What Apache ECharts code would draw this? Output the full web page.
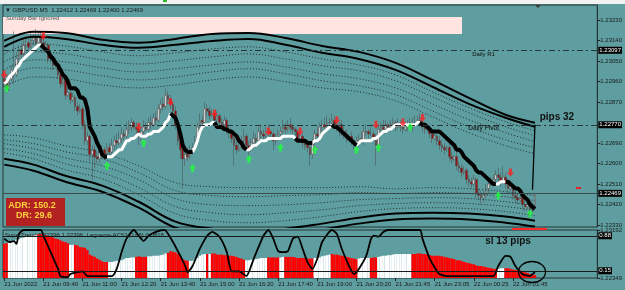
<!DOCTYPE html>
<html>
<head>
<meta charset="utf-8">
<script src="https://cdn.jsdelivr.net/npm/echarts@6/dist/echarts.min.js"></script>
<style>
  html, body { margin: 0; padding: 0; background: #5F9EA0; }
  #chart { width: 625px; height: 290px; }
</style>
</head>
<body>
<div id="chart"></div>
<script>
// GBPUSD M5, 21-22 Jun 2022
const timeLabels = ['21 Jun 2022', '21 Jun 09:40', '21 Jun 11:00', '21 Jun 12:20', '21 Jun 13:40', '21 Jun 15:00', '21 Jun 16:20',
    '21 Jun 17:40', '21 Jun 19:00', '21 Jun 20:20', '21 Jun 21:45', '21 Jun 23:05', '22 Jun 00:25', '22 Jun 01:45'];
const barsPerLabel = 16;
const slots = 243; // bars visible incl. right shift

const opens = [1.2297,1.2295,1.2293,1.2297,1.2301,1.2299,1.2306,1.2310,1.2308,1.2312,
    1.2313,1.2311,1.2314,1.2315,1.2313,1.2316,1.2313,1.2311,1.2312,1.2306,
    1.2307,1.2303,1.2304,1.2299,1.2295,1.2297,1.2290,1.2291,1.2288,1.2289,
    1.2285,1.2283,1.2284,1.2277,1.2270,1.2272,1.2264,1.2266,1.2263,1.2262,
    1.2265,1.2266,1.2264,1.2267,1.2265,1.2268,1.2270,1.2269,1.2271,1.2273,
    1.2272,1.2275,1.2276,1.2278,1.2276,1.2275,1.2272,1.2274,1.2276,1.2275,
    1.2278,1.2277,1.2280,1.2279,1.2284,1.2286,1.2285,1.2290,1.2288,1.2286,
    1.2283,1.2277,1.2270,1.2266,1.2262,1.2264,1.2263,1.2266,1.2267,1.2270,
    1.2276,1.2279,1.2278,1.2284,1.2283,1.2281,1.2282,1.2279,1.2281,1.2278,
    1.2277,1.2279,1.2275,1.2274,1.2271,1.2268,1.2266,1.2267,1.2270,1.2272,
    1.2268,1.2266,1.2269,1.2271,1.2270,1.2274,1.2273,1.2272,1.2274,1.2274,
    1.2273,1.2270,1.2271,1.2273,1.2274,1.2276,1.2275,1.2277,1.2276,1.2275,
    1.2274,1.2271,1.2272,1.2269,1.2268,1.2267,1.2264,1.2270,1.2273,1.2272,
    1.2276,1.2277,1.2276,1.2278,1.2278,1.2279,1.2277,1.2276,1.2277,1.2274,
    1.2273,1.2271,1.2272,1.2270,1.2268,1.2270,1.2271,1.2270,1.2274,1.2274,
    1.2273,1.2273,1.2271,1.2268,1.2275,1.2276,1.2275,1.2277,1.2276,1.2277,
    1.2278,1.2276,1.2277,1.2276,1.2275,1.2276,1.2277,1.2276,1.2278,1.2278,
    1.2279,1.2278,1.2276,1.2275,1.2276,1.2273,1.2271,1.2272,1.2270,1.2268,
    1.2267,1.2266,1.2267,1.2263,1.2262,1.2263,1.2259,1.2258,1.2256,1.2257,
    1.2253,1.2252,1.2251,1.2253,1.2247,1.2246,1.2245,1.2246,1.2249,1.2251,
    1.2252,1.2253,1.2255,1.2254,1.2252,1.2254,1.2251,1.2249,1.2250,1.2246,
    1.2245,1.2244,1.2245,1.2242,1.2241,1.2242,1.2240,1.22412];
const closes = [1.2295,1.2293,1.2297,1.2301,1.2299,1.2306,1.2310,1.2308,1.2312,1.2313,
    1.2311,1.2314,1.2315,1.2313,1.2316,1.2313,1.2311,1.2312,1.2306,1.2307,
    1.2303,1.2304,1.2299,1.2295,1.2297,1.2290,1.2291,1.2288,1.2289,1.2285,
    1.2283,1.2284,1.2277,1.2270,1.2272,1.2264,1.2266,1.2263,1.2262,1.2265,
    1.2266,1.2264,1.2267,1.2265,1.2268,1.2270,1.2269,1.2271,1.2273,1.2272,
    1.2275,1.2276,1.2278,1.2276,1.2275,1.2272,1.2274,1.2276,1.2275,1.2278,
    1.2277,1.2280,1.2279,1.2284,1.2286,1.2285,1.2290,1.2288,1.2286,1.2283,
    1.2277,1.2270,1.2266,1.2262,1.2264,1.2263,1.2266,1.2267,1.2270,1.2276,
    1.2279,1.2278,1.2284,1.2283,1.2281,1.2282,1.2279,1.2281,1.2278,1.2277,
    1.2279,1.2275,1.2274,1.2271,1.2268,1.2266,1.2267,1.2270,1.2272,1.2268,
    1.2266,1.2269,1.2271,1.2270,1.2274,1.2273,1.2272,1.2274,1.2274,1.2273,
    1.2270,1.2271,1.2273,1.2274,1.2276,1.2275,1.2277,1.2276,1.2275,1.2274,
    1.2271,1.2272,1.2269,1.2268,1.2267,1.2264,1.2270,1.2273,1.2272,1.2276,
    1.2277,1.2276,1.2278,1.2278,1.2279,1.2277,1.2276,1.2277,1.2274,1.2273,
    1.2271,1.2272,1.2270,1.2268,1.2270,1.2271,1.2270,1.2274,1.2274,1.2273,
    1.2273,1.2271,1.2268,1.2275,1.2276,1.2275,1.2277,1.2276,1.2277,1.2278,
    1.2276,1.2277,1.2276,1.2275,1.2276,1.2277,1.2276,1.2278,1.2278,1.2279,
    1.2278,1.2276,1.2275,1.2276,1.2273,1.2271,1.2272,1.2270,1.2268,1.2267,
    1.2266,1.2267,1.2263,1.2262,1.2263,1.2259,1.2258,1.2256,1.2257,1.2253,
    1.2252,1.2251,1.2253,1.2247,1.2246,1.2245,1.2246,1.2249,1.2251,1.2252,
    1.2253,1.2255,1.2254,1.2252,1.2254,1.2251,1.2249,1.2250,1.2246,1.2245,
    1.2244,1.2245,1.2242,1.2241,1.2242,1.2240,1.22412,1.22469];
const lows = [1.2293,1.2291,1.2292,1.2296,1.2295,1.2298,1.2304,1.2306,1.2307,1.2310,
    1.2309,1.2310,1.2312,1.2311,1.2312,1.2311,1.2309,1.2310,1.2304,1.2304,
    1.2301,1.2302,1.2297,1.2293,1.2294,1.2288,1.2289,1.2286,1.2287,1.2283,
    1.2281,1.2282,1.2275,1.2268,1.2268,1.2261,1.2253,1.2258,1.2260,1.2260,
    1.2263,1.2262,1.2263,1.2263,1.2264,1.2266,1.2267,1.2268,1.2269,1.2270,
    1.2271,1.2273,1.2274,1.2275,1.2273,1.2268,1.2270,1.2272,1.2274,1.2273,
    1.2275,1.2276,1.2277,1.2278,1.2282,1.2283,1.2284,1.2286,1.2284,1.2281,
    1.2275,1.2268,1.2262,1.2249,1.2259,1.2261,1.2262,1.2264,1.2265,1.2269,
    1.2274,1.2276,1.2277,1.2281,1.2279,1.2280,1.2277,1.2278,1.2276,1.2275,
    1.2276,1.2273,1.2271,1.2269,1.2259,1.2264,1.2265,1.2266,1.2268,1.2266,
    1.2262,1.2265,1.2267,1.2268,1.2269,1.2271,1.2270,1.2271,1.2272,1.2271,
    1.2266,1.2268,1.2270,1.2271,1.2273,1.2273,1.2274,1.2274,1.2273,1.2272,
    1.2269,1.2270,1.2267,1.2266,1.2265,1.2259,1.2262,1.2268,1.2270,1.2271,
    1.2274,1.2275,1.2274,1.2276,1.2277,1.2275,1.2274,1.2272,1.2272,1.2271,
    1.2269,1.2270,1.2268,1.2266,1.2267,1.2268,1.2269,1.2268,1.2272,1.2271,
    1.2272,1.2270,1.2259,1.2267,1.2273,1.2274,1.2273,1.2275,1.2274,1.2276,
    1.2274,1.2275,1.2274,1.2273,1.2274,1.2274,1.2275,1.2274,1.2276,1.2277,
    1.2276,1.2274,1.2273,1.2274,1.2271,1.2269,1.2270,1.2268,1.2266,1.2265,
    1.2264,1.2265,1.2261,1.2260,1.2261,1.2257,1.2256,1.2254,1.2255,1.2251,
    1.2250,1.2249,1.2250,1.2245,1.2244,1.2242,1.2243,1.2245,1.2247,1.2250,
    1.2251,1.2252,1.2252,1.2250,1.2251,1.2249,1.2247,1.2248,1.2244,1.2243,
    1.2242,1.2243,1.2240,1.2239,1.2240,1.2236,1.2238,1.22400];
const highs = [1.2299,1.2297,1.2299,1.2303,1.2318,1.2309,1.2312,1.2313,1.2314,1.2316,
    1.2315,1.2318,1.2317,1.2319,1.2318,1.2318,1.2315,1.2314,1.2313,1.2309,
    1.2308,1.2306,1.2305,1.2302,1.2299,1.2298,1.2294,1.2292,1.2291,1.2290,
    1.2287,1.2286,1.2285,1.2279,1.2274,1.2273,1.2268,1.2268,1.2265,1.2267,
    1.2268,1.2267,1.2269,1.2269,1.2271,1.2272,1.2273,1.2274,1.2276,1.2275,
    1.2278,1.2279,1.2280,1.2279,1.2278,1.2277,1.2276,1.2279,1.2278,1.2280,
    1.2281,1.2282,1.2283,1.2286,1.2288,1.2289,1.2293,1.2292,1.2290,1.2287,
    1.2285,1.2279,1.2271,1.2267,1.2266,1.2267,1.2268,1.2269,1.2272,1.2278,
    1.2282,1.2281,1.2287,1.2286,1.2285,1.2284,1.2283,1.2283,1.2282,1.2280,
    1.2281,1.2280,1.2277,1.2275,1.2273,1.2270,1.2269,1.2272,1.2275,1.2273,
    1.2270,1.2271,1.2274,1.2273,1.2276,1.2277,1.2275,1.2276,1.2277,1.2275,
    1.2274,1.2273,1.2275,1.2276,1.2279,1.2278,1.2279,1.2280,1.2277,1.2276,
    1.2275,1.2274,1.2273,1.2271,1.2270,1.2268,1.2271,1.2275,1.2276,1.2278,
    1.2279,1.2280,1.2281,1.2280,1.2282,1.2281,1.2279,1.2278,1.2279,1.2276,
    1.2275,1.2273,1.2274,1.2271,1.2272,1.2273,1.2274,1.2276,1.2277,1.2275,
    1.2276,1.2274,1.2273,1.2277,1.2278,1.2279,1.2279,1.2278,1.2279,1.2280,
    1.2279,1.2280,1.2279,1.2278,1.2277,1.2279,1.2280,1.2280,1.2281,1.2281,
    1.2282,1.2279,1.2278,1.2277,1.2277,1.2275,1.2274,1.2273,1.2272,1.2270,
    1.2269,1.2268,1.2269,1.2265,1.2264,1.2265,1.2261,1.2260,1.2259,1.2258,
    1.2255,1.2254,1.2255,1.2254,1.2249,1.2248,1.2248,1.2251,1.2253,1.2254,
    1.2255,1.2257,1.2258,1.2256,1.2259,1.2256,1.2253,1.2252,1.2251,1.2248,
    1.2247,1.2246,1.2246,1.2244,1.2243,1.2243,1.2243,1.22469];

// SuperTrend line (also drawn as histogram in the sub window)
const stValues = [1.2295,1.2296,1.2298,1.2299,1.2300,1.2302,1.2303,1.2305,1.2306,1.2307,
    1.2308,1.2309,1.2310,1.2311,1.2312,1.2312,
    1.2311,1.2310,1.2309,1.2307,1.2306,1.2304,1.2303,1.2301,1.2299,1.2298,
    1.2296,1.2293,1.2293,1.2293,1.2292,1.2289,1.2289,1.2288,1.2284,1.2276,
    1.2274,1.2272,1.2269,1.2267,1.2264,1.2263,1.2263,
    1.2263,1.2263,1.2264,1.2265,1.2266,1.2266,1.2268,1.2270,1.2270,1.2271,
    1.2271,1.2272,1.2273,1.2272,1.2272,1.2272,1.2273,1.2273,1.2274,1.2274,
    1.2274,1.2275,1.2276,1.2278,1.2279,1.2282,
    1.2281,1.2280,1.2277,1.2273,1.2268,1.2266,1.2265,1.2265,1.2265,
    1.2267,1.2270,1.2274,1.2276,1.2277,1.2277,1.2277,1.2278,1.2278,
    1.2276,1.2276,1.2276,1.2275,1.2275,1.2274,1.2274,1.2273,1.2272,1.2270,
    1.2269,1.2267,1.2266,
    1.2266,1.2267,1.2268,1.2268,1.2269,1.2270,1.2270,1.2270,1.2271,1.2271,
    1.2271,1.2271,1.2271,1.2271,1.2272,1.2272,1.2272,1.2272,1.2272,1.2271,
    1.2270,1.2270,1.2270,1.2270,1.2269,1.2269,1.2269,
    1.2270,1.2270,1.2271,1.2273,1.2274,1.2275,1.2276,1.2277,
    1.2276,1.2276,1.2275,1.2274,1.2273,1.2272,1.2271,1.2270,1.2269,1.2268,
    1.2269,1.2270,1.2270,1.2270,1.2270,1.2270,1.2271,1.2271,1.2272,1.2273,
    1.2274,1.2274,1.2275,1.2275,1.2276,1.2277,1.2277,1.2277,1.2277,1.2277,
    1.2277,1.2277,1.2277,1.2277,1.2278,1.2278,
    1.2277,1.2277,1.2276,1.2275,1.2274,1.2274,1.2274,1.2274,1.2273,1.2272,
    1.2271,1.2270,1.2269,1.2268,1.2266,1.2266,1.2265,1.2263,1.2262,1.2261,
    1.2260,1.2259,1.2257,1.2256,1.2256,1.2255,1.2254,1.2253,1.2252,1.2251,
    1.2251,
    1.2251,1.2252,1.2252,1.2252,
    1.2252,1.2251,1.2250,1.2249,1.2249,1.2248,1.2246,1.2245,1.2244,1.2242,
    1.2241,1.2240];
const stRuns = [['up', 16], ['dn', 27], ['up', 26], ['dn', 9], ['up', 9], ['dn', 13], ['up', 20],
    ['dn', 7], ['up', 8], ['dn', 10], ['up', 26], ['dn', 31], ['up', 4], ['dn', 12]];
const histRuns = [['dn', 2], ['up', 12], ['dn', 13], ['up', 2], ['dn', 14], ['up', 11], ['dn', 5], ['up', 8],
    ['dn', 9], ['up', 7], ['dn', 1], ['up', 1], ['dn', 14], ['up', 9], ['dn', 5], ['up', 2], ['dn', 12],
    ['up', 7], ['dn', 11], ['up', 5], ['dn', 3], ['up', 14], ['dn', 35], ['up', 3], ['dn', 13]];

// envelope channel, read at these bars
const bandBars = [0, 12, 25, 40, 55, 70, 85, 100, 115, 130, 145, 160, 175, 190, 205, 217];
const upperOuter = [1.23138,1.23178,1.23173,1.23143,1.23130,1.23147,1.23169,1.23173,1.23151,1.23116,1.23090,1.23042,1.22967,1.22888,1.22814,1.22779];
const upperInner = [1.23112,1.23156,1.23147,1.23121,1.23108,1.23121,1.23138,1.23147,1.23121,1.23086,1.23059,1.23011,1.22937,1.22862,1.22801,1.22761];
const upperDot1 = [1.23081,1.23125,1.23116,1.23090,1.23073,1.23086,1.23103,1.23112,1.23090,1.23059,1.23033,1.22989,1.22915,1.22845,1.22783,1.22744];
const upperDot2 = [1.23046,1.23090,1.23081,1.23055,1.23037,1.23051,1.23068,1.23081,1.23059,1.23029,1.23007,1.22963,1.22893,1.22823,1.22761,1.22722];
const upperDot3 = [1.23011,1.23055,1.23046,1.23020,1.23002,1.23016,1.23033,1.23046,1.23024,1.22994,1.22972,1.22932,1.22862,1.22792,1.22735,1.22696];
const upperDot4 = [1.22976,1.23020,1.23011,1.22985,1.22967,1.22980,1.23002,1.23016,1.22994,1.22963,1.22941,1.22902,1.22831,1.22761,1.22704,1.22669];
const upperDot5 = [1.22937,1.22980,1.22972,1.22945,1.22932,1.22945,1.22967,1.22980,1.22959,1.22932,1.22915,1.22875,1.22805,1.22735,1.22678,1.22643];
const lowerInner = [1.22621,1.22595,1.22546,1.22503,1.22432,1.22345,1.22314,1.22305,1.22314,1.22336,1.22362,1.22380,1.22384,1.22380,1.22367,1.22349];
const lowerOuter = [1.22595,1.22568,1.22520,1.22476,1.22406,1.22318,1.22288,1.22279,1.22288,1.22310,1.22336,1.22354,1.22358,1.22354,1.22340,1.22323];
const lowerDot1 = [1.22647,1.22621,1.22573,1.22533,1.22463,1.22380,1.22349,1.22340,1.22349,1.22367,1.22389,1.22402,1.22406,1.22402,1.22389,1.22371];
const lowerDot2 = [1.22665,1.22643,1.22599,1.22560,1.22494,1.22411,1.22384,1.22375,1.22384,1.22397,1.22415,1.22424,1.22428,1.22424,1.22411,1.22393];
const lowerDot3 = [1.22687,1.22665,1.22625,1.22590,1.22529,1.22446,1.22419,1.22415,1.22419,1.22428,1.22441,1.22446,1.22450,1.22446,1.22432,1.22415];
const lowerDot4 = [1.22704,1.22687,1.22652,1.22621,1.22560,1.22481,1.22459,1.22454,1.22459,1.22463,1.22472,1.22468,1.22472,1.22468,1.22454,1.22437];
const lowerDot5 = [1.22726,1.22713,1.22678,1.22647,1.22590,1.22516,1.22498,1.22494,1.22494,1.22494,1.22498,1.22489,1.22494,1.22489,1.22476,1.22459];

// signal arrows [bar, price]
const sellArrows = [[0,1.2299],[16,1.2316],[55,1.2276],[68,1.2287],[86,1.2282],[108,1.2274],[121,1.2274],
    [136,1.2279],[152,1.2277],[163,1.2278],[171,1.2280],[207,1.2256]];
const buyArrows = [[1,1.2293],[42,1.2259],[57,1.2269],[77,1.2258],[100,1.2262],[113,1.2267],[127,1.2266],
    [144,1.2266],[153,1.2267],[166,1.2276],[202,1.2246],[215,1.2238]];

// Laguerre (sub window)
const lagBars = [0,2,4,5,6,8,15,16,19,22,23,26,27,30,32,34,35,44,46,48,50,53,55,57,59,62,65,66,69,72,
    74,75,77,80,83,85,88,91,93,96,99,102,106,108,110,112,114,116,118,120,122,124,126,128,130,134,136,138,141,143,
    145,148,150,151,153,155,157,170,171,174,177,178,181,200,202,205,207,209,212,215,216,217];
const lagValues = [0.82,0.75,0.77,0.71,0.92,1.0,1.0,0.88,0.54,0.19,0.04,0.02,0.08,0.12,0.14,0.04,0.04,0.04,0.19,0.54,
    0.82,1.0,0.88,0.77,0.88,0.96,1.0,0.99,0.75,0.46,0.25,0.12,0.25,0.61,0.88,0.96,0.86,0.54,0.14,0.14,
    0.04,0.40,0.88,1.0,0.82,0.56,0.54,0.56,0.82,0.86,0.61,0.33,0.19,0.40,0.75,1.0,0.92,0.61,0.25,0.08,
    0.19,0.46,0.82,0.88,0.86,0.96,1.0,1.0,0.82,0.40,0.14,0.08,0.04,0.04,0.25,0.46,0.44,0.25,0.08,0.04,0.08,0.12];
const lagLevels = [0.88, 0.15];

const priceTicks = [1.22330, 1.22420, 1.22510, 1.22600, 1.22690, 1.22870, 1.22960, 1.23050, 1.23140, 1.23230];
const subTicks = [1.22349, 1.23192];
const dailyR1 = 1.23097;
const dailyPivot = 1.22770;
const bidPrice = 1.22469;
const measureBottom = 1.22485;

[opens, closes, lows, highs, stValues].forEach(a => {
    if (a.length !== 218) throw new Error('bad length ' + a.length);
});
if (lagBars.length !== lagValues.length) throw new Error('lag length');

const FONT = 'Liberation Sans';
const categories = Array.from({ length: slots }, (_, i) => String(i));

function expandRuns(runs) {
    const out = [];
    runs.forEach(([d, n]) => { for (let k = 0; k < n; k++) out.push(d); });
    return out;
}
const stDir = expandRuns(stRuns);
const histDir = expandRuns(histRuns);

// each colour also takes the last bar before it starts, so the line stays joined
const stSegment = dir => stValues.map((v, i) =>
    (stDir[i] === dir || stDir[i + 1] === dir) ? v : null);

const bandLine = (values, solid) => ({
    type: 'line',
    data: bandBars.map((b, k) => [b, values[k]]),
    smooth: 0.4,
    symbol: 'none',
    silent: true,
    z: 3,
    lineStyle: solid
        ? { color: '#000', width: 2 }
        : { color: '#1f2f2f', width: 1, type: [1, 2] },
});

const priceBox = {
    show: true,
    position: 'end',
    distance: 1,
    formatter: p => Number(p.value).toFixed(5),
    color: '#fff',
    backgroundColor: '#000',
    padding: [1, 1, 0, 1],
    fontSize: 6,
    fontFamily: FONT,
};

const textMark = (coord, text, size, bold) => ({
    coord,
    symbol: 'circle',
    symbolSize: 1,
    itemStyle: { color: 'rgba(0,0,0,0)' },
    label: {
        show: true, position: 'inside', formatter: text, color: '#111',
        fontSize: size, fontWeight: bold ? 'bold' : 'normal', fontFamily: FONT,
    },
});

const chart = echarts.init(document.getElementById('chart'));

const option = {
    animation: false,
    backgroundColor: '#5F9EA0',
    grid: [
        { left: 3, top: 5, width: 595, height: 222, show: true, borderColor: '#263636', borderWidth: 1 },
        { left: 3, top: 230, width: 595, height: 48, show: true, borderColor: '#263636', borderWidth: 1 },
    ],
    xAxis: [
        {
            type: 'category', gridIndex: 0, data: categories,
            axisLine: { show: false }, axisTick: { show: false }, axisLabel: { show: false },
        },
        {
            type: 'category', gridIndex: 1, data: categories,
            axisLine: { show: false },
            axisTick: {
                show: true, alignWithLabel: true, length: 3,
                interval: i => i % barsPerLabel === 0 && i / barsPerLabel < timeLabels.length,
                lineStyle: { color: '#222' },
            },
            axisLabel: {
                interval: i => i % barsPerLabel === 0 && i / barsPerLabel < timeLabels.length,
                formatter: (v, i) => timeLabels[i / barsPerLabel] || '',
                align: 'left', margin: 3, fontSize: 6, color: '#1a1a1a', fontFamily: FONT,
            },
        },
    ],
    yAxis: [
        {
            type: 'value', gridIndex: 0, position: 'right',
            min: 1.223212, max: 1.232958,
            splitLine: { show: false },
            axisLine: { show: true, lineStyle: { color: '#263636' } },
            axisTick: { show: true, length: 3, customValues: priceTicks, lineStyle: { color: '#222' } },
            axisLabel: {
                customValues: priceTicks, formatter: v => v.toFixed(5),
                margin: 3, fontSize: 6, color: '#1a1a1a', fontFamily: FONT,
            },
        },
        {
            type: 'value', gridIndex: 1, min: 0, max: 1, show: false,
        },
        {
            type: 'value', gridIndex: 1, position: 'right',
            min: subTicks[0], max: subTicks[1],
            splitLine: { show: false },
            axisLine: { show: true, lineStyle: { color: '#263636' } },
            axisTick: { show: true, length: 3, customValues: subTicks, lineStyle: { color: '#222' } },
            axisLabel: {
                customValues: subTicks, formatter: v => v.toFixed(5),
                margin: 3, fontSize: 6, color: '#1a1a1a', fontFamily: FONT,
            },
        },
    ],
    series: [
        {
            type: 'candlestick',
            xAxisIndex: 0, yAxisIndex: 0,
            data: opens.map((o, i) => [o, closes[i], lows[i], highs[i]]),
            barWidth: 2.2,
            z: 2,
            itemStyle: {
                color: '#CFCFCF', borderColor: '#4a4a4a',
                color0: '#9A0E0E', borderColor0: '#4a4a4a',
                borderWidth: 0.5,
            },
            markLine: {
                symbol: 'none', silent: true, precision: 5,
                data: [
                    { yAxis: dailyR1, lineStyle: { color: '#263636', width: 1, type: [6, 3, 2, 3] }, label: priceBox },
                    { yAxis: dailyPivot, lineStyle: { color: '#263636', width: 1, type: [6, 3, 2, 3] }, label: priceBox },
                    { yAxis: bidPrice, lineStyle: { color: '#3c4c4c', width: 1, type: 'solid' }, label: priceBox },
                    [
                        { coord: ['217', dailyPivot], lineStyle: { color: '#000', width: 1.3, type: 'solid' }, label: { show: false } },
                        { coord: ['216', measureBottom] },
                    ],
                ],
            },
            markPoint: {
                silent: true,
                data: [
                    textMark(['196', 1.23081], 'Daily R1', 6, false),
                    textMark(['196', 1.22754], 'Daily Pivot', 6.5, false),
                    textMark(['226', 1.22805], 'pips 32', 10, true),
                ],
            },
        },
        bandLine(upperOuter, true),
        bandLine(upperInner, true),
        bandLine(upperDot1, false),
        bandLine(upperDot2, false),
        bandLine(upperDot3, false),
        bandLine(upperDot4, false),
        bandLine(upperDot5, false),
        bandLine(lowerInner, true),
        bandLine(lowerOuter, true),
        bandLine(lowerDot1, false),
        bandLine(lowerDot2, false),
        bandLine(lowerDot3, false),
        bandLine(lowerDot4, false),
        bandLine(lowerDot5, false),
        {
            type: 'line', data: stSegment('up'), symbol: 'none', silent: true, z: 4,
            lineStyle: { color: '#ffffff', width: 3 },
        },
        {
            type: 'line', data: stSegment('dn'), symbol: 'none', silent: true, z: 4,
            lineStyle: { color: '#000000', width: 4 },
        },
        {
            type: 'scatter', data: sellArrows, z: 5, silent: true,
            symbol: 'path://M3,0h4v5h3l-5,6l-5,-6h3z', symbolSize: [7, 8],
            itemStyle: { color: '#FF1E1E' },
        },
        {
            type: 'scatter', data: buyArrows, z: 5, silent: true,
            symbol: 'path://M5,0l5,6h-3v5h-4v-5h-3z', symbolSize: [7, 8],
            itemStyle: { color: '#1EFF3C' },
        },
        {
            type: 'bar', xAxisIndex: 1, yAxisIndex: 2,
            barCategoryGap: '0%', clip: true, silent: true, z: 2,
            data: stValues.map((v, i) => ({
                value: v,
                itemStyle: { color: histDir[i] === 'up' ? '#ffffff' : '#ff0000' },
            })),
        },
        {
            type: 'line', xAxisIndex: 1, yAxisIndex: 1,
            data: lagBars.map((b, k) => [b, lagValues[k]]),
            smooth: 0.2, symbol: 'none', silent: true, z: 4,
            lineStyle: { color: '#000', width: 1.8 },
            markLine: {
                symbol: 'none', silent: true, precision: 2,
                lineStyle: { color: '#1a1a1a', width: 1, type: 'solid' },
                label: {
                    show: true, position: 'end', distance: 1, formatter: p => Number(p.value).toFixed(2),
                    color: '#fff', backgroundColor: '#000', padding: [1, 1, 0, 1], fontSize: 6, fontFamily: FONT,
                },
                data: lagLevels.map(v => ({ yAxis: v })),
            },
            markPoint: {
                silent: true,
                data: [textMark(['206', 0.77], 'sl 13 pips', 10, true)],
            },
        },
    ],
    graphic: [
        { type: 'rect', shape: { x: 0, y: 0, width: 625, height: 4 }, style: { fill: '#F2F2F2' }, z: 10 },
        { type: 'rect', shape: { x: 163, y: 0, width: 4, height: 2 }, style: { fill: '#2EB82E' }, z: 11 },
        { type: 'rect', shape: { x: 3, y: 17, width: 459, height: 17 }, style: { fill: '#FFE4E1' }, z: 0 },
        {
            type: 'text', x: 6, y: 18.5, z: 1,
            style: { text: 'Sunday Bar Ignored', fill: '#555', fontSize: 6, fontFamily: FONT, verticalAlign: 'middle' },
        },
        {
            type: 'text', x: 5, y: 10, z: 10,
            style: { text: '\u25BC GBPUSD.M5  1.22412 1.22469 1.22400 1.22469', fill: '#1a1a1a', fontSize: 6, fontFamily: FONT, verticalAlign: 'middle' },
        },
        { type: 'polygon', shape: { points: [[535, 5], [541, 5], [538, 8]] }, style: { fill: '#3a3a3a' }, z: 10 },
        {
            type: 'text', x: 5, y: 235, z: 10,
            style: { text: 'SuperTrend 1.22396 1.22396  Laguerre-ACS1(0.66) 0.0818', fill: '#1a1a1a', fontSize: 6, fontFamily: FONT, verticalAlign: 'middle' },
        },
        { type: 'rect', shape: { x: 6, y: 198, width: 59, height: 28 }, style: { fill: '#B22222' }, z: 50 },
        {
            type: 'text', x: 32, y: 206, z: 51,
            style: { text: 'ADR: 150.2', fill: '#FFD23C', fontSize: 9, fontWeight: 'bold', fontFamily: FONT, align: 'center', verticalAlign: 'middle' },
        },
        {
            type: 'text', x: 34, y: 216, z: 51,
            style: { text: 'DR: 29.6', fill: '#FFD23C', fontSize: 9, fontWeight: 'bold', fontFamily: FONT, align: 'center', verticalAlign: 'middle' },
        },
        { type: 'rect', shape: { x: 512, y: 228, width: 35, height: 2 }, style: { fill: '#FF2A2A' }, z: 50 },
        { type: 'rect', shape: { x: 576, y: 187, width: 5, height: 2 }, style: { fill: '#E8202A' }, z: 50 },
        {
            type: 'ellipse', shape: { cx: 532, cy: 272, rx: 13.5, ry: 10.5 }, z: 50,
            style: { fill: null, stroke: '#000', lineWidth: 1.3 },
        },
    ],
};

chart.setOption(option);
</script>
</body>
</html>
